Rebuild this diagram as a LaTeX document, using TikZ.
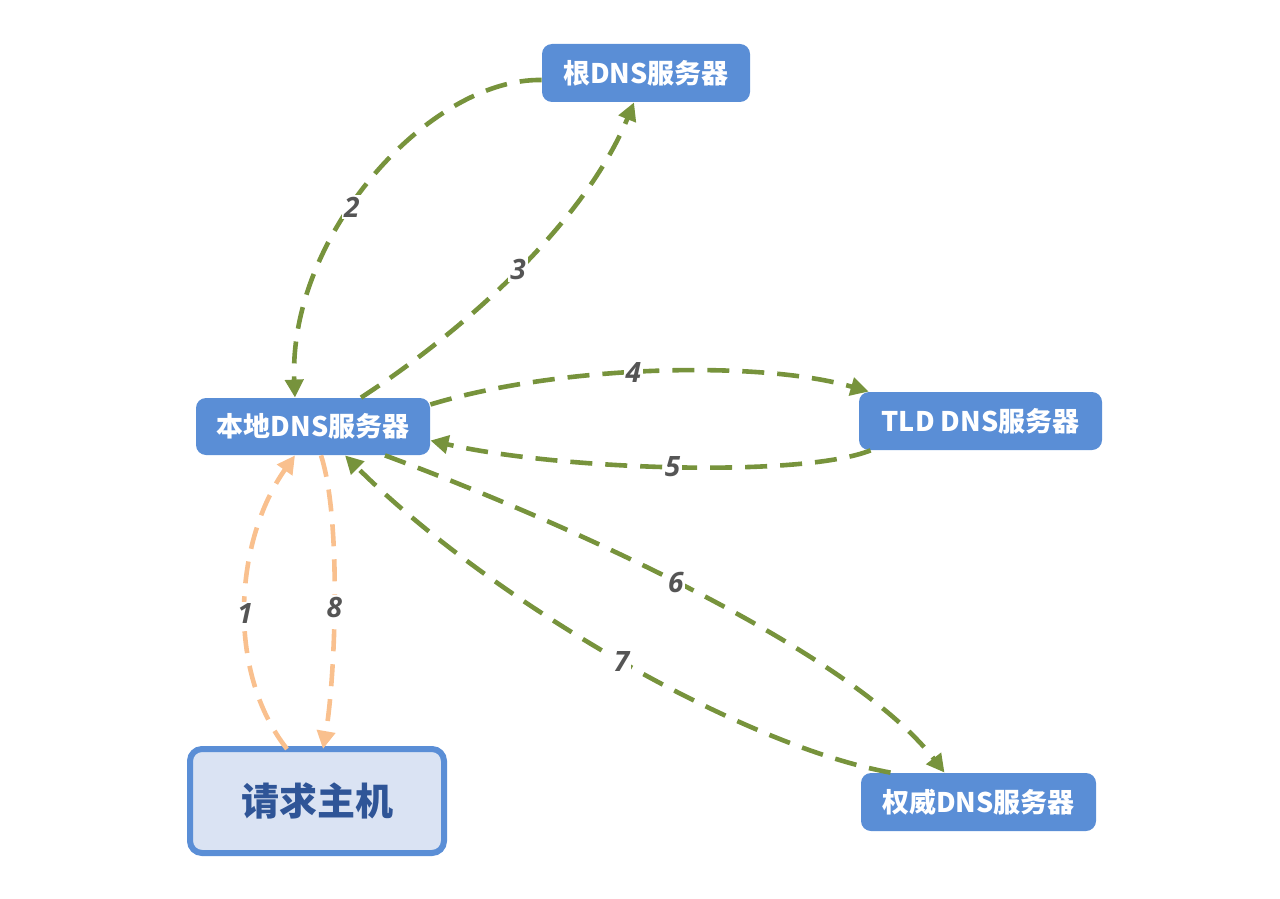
\documentclass[tikz,border=0pt]{standalone}
\usepackage{fontspec}
\setmainfont{Noto Sans CJK SC}
\newfontfamily\numfont{Open Sans}
\usetikzlibrary{arrows.meta}
\definecolor{boxblue}{RGB}{90,142,214}
\definecolor{arrgreen}{RGB}{119,147,60}
\definecolor{arrorange}{RGB}{249,192,142}
\definecolor{hostfill}{RGB}{218,227,243}
\definecolor{hosttext}{RGB}{47,85,151}
\definecolor{numgray}{RGB}{85,85,85}
\tikzset{
  srv/.style={draw=none, fill=boxblue, rounded corners=5pt, text=white,
    font=\fontsize{13.5}{16}\selectfont\bfseries, inner sep=0pt},
  host/.style={draw=boxblue, line width=3pt, fill=hostfill, rounded corners=6pt,
    text=hosttext, font=\fontsize{19}{22}\selectfont\bfseries, inner sep=0pt,
    minimum width=127pt, minimum height=52pt},
  conn/.style={line width=2.3pt, dash pattern=on 11pt off 6.5pt},
  green/.style={conn, draw=arrgreen, arrows={-{Triangle[length=9pt,width=9pt,fill=arrgreen]}}},
  orange/.style={conn, draw=arrorange, arrows={-{Triangle[length=9pt,width=9pt,fill=arrorange]}}},
  num/.style={fill=white, inner sep=1pt, text=numgray,
    font=\numfont\fontsize{14}{16}\selectfont\bfseries\itshape}
}
\begin{document}
\begin{tikzpicture}[x=0.5pt,y=-0.5pt]
\useasboundingbox (0,0) rectangle (1280,899);
% nodes
\node[srv, minimum width=104pt, minimum height=29pt] (root) at (646,73) {根DNS服务器};
\node[srv, minimum width=117pt, minimum height=28.5pt] (local) at (313,426.5) {本地DNS服务器};
\node[srv, minimum width=121.5pt, minimum height=29pt] (tld) at (980.5,421) {TLD DNS服务器};
\node[srv, minimum width=117.5pt, minimum height=29pt] (auth) at (978.5,802) {权威DNS服务器};
\node[host] (req) at (317,801) {请求主机};
% connector end coordinates
\coordinate (r2s) at ([yshift=-3.5pt]root.west);
\coordinate (l2e) at ([xshift=-9pt]local.north);
\coordinate (l3s) at ([xshift=24pt]local.north);
\coordinate (r3e) at ([xshift=-6pt]root.south);
\coordinate (l4s) at ([yshift=11pt]local.east);
\coordinate (t4e) at ([xshift=5pt]tld.north west);
\coordinate (t5s) at ([xshift=6pt]tld.south west);
\coordinate (l5e) at ([yshift=-7pt]local.east);
\coordinate (l6s) at ([xshift=36pt]local.south);
\coordinate (a6e) at ([xshift=-17pt]auth.north);
\coordinate (a7s) at ([xshift=-44pt]auth.north);
\coordinate (l7e) at ([xshift=16pt]local.south);
\coordinate (h1s) at ([xshift=-15pt,yshift=-1.5pt]req.north);
\coordinate (l1e) at ([xshift=-9pt]local.south);
\coordinate (l8s) at ([xshift=4pt]local.south);
\coordinate (h8e) at ([xshift=3pt,yshift=-1.5pt]req.north);
% connectors
\draw[green] (r2s) .. controls (430,78) and (288,235) .. (l2e)
  node[num, pos=0.58] {2};
\draw[green] (l3s) .. controls (465,330) and (585,222) .. (r3e)
  node[num, pos=0.5] {3};
\draw[green] (l4s) .. controls (560,365) and (760,360) .. (t4e)
  node[num, pos=0.45] {4};
\draw[green] (t5s) .. controls (800,478) and (560,470) .. (l5e)
  node[num, pos=0.5] {5};
\draw[green] (l6s) .. controls (560,520) and (850,650) .. (a6e)
  node[num, pos=0.47] {6};
\draw[green] (a7s) .. controls (740,745) and (490,600) .. (l7e)
  node[num, pos=0.49] {7};
\draw[orange] (h1s) .. controls (225,670) and (235,540) .. (l1e)
  node[num, pos=0.47] {1};
\draw[orange] (l8s) .. controls (342,520) and (335,680) .. (h8e)
  node[num, pos=0.52] {8};
\end{tikzpicture}
\end{document}
